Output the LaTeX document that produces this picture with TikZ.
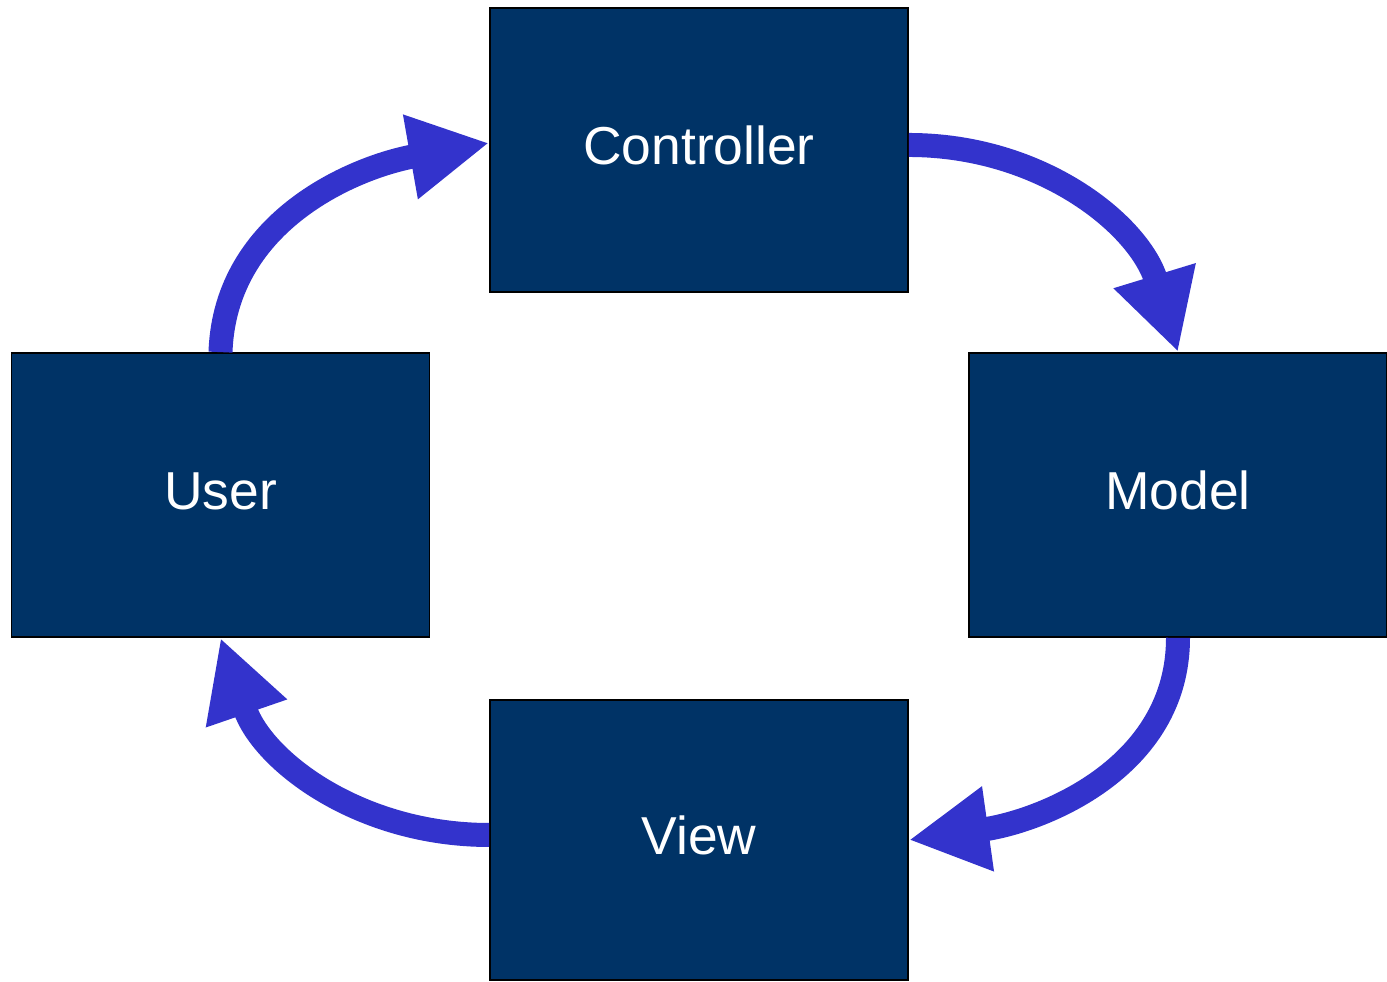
\documentclass[tikz,border=0pt]{standalone}
\usepackage{fontspec}
\setmainfont{Liberation Sans}
\usetikzlibrary{arrows.meta}
\definecolor{boxfill}{RGB}{0,51,102}
\definecolor{flowblue}{RGB}{51,51,204}
\begin{document}
\begin{tikzpicture}[x=0.02cm,y=0.02cm,
  part/.style={draw=black, line width=1pt, fill=boxfill, text=white,
    minimum width=8.36cm, minimum height=5.68cm, inner sep=0pt,
    text height=0.8cm, text depth=0.2cm,
    font=\fontsize{30.4}{36}\selectfont},
  flow/.style={draw=flowblue, line width=0.48cm,
    -{Triangle[length=1.6cm,width=1.6cm]}}]
\useasboundingbox (0,0) rectangle (1387,982);
\node[part] (controller) at (699,832) {Controller};
\node[part] (user) at (220.5,487) {User};
\node[part] (model) at (1178,487) {Model};
\node[part, minimum height=5.6cm] (view) at (699,142) {View};

\draw[flow] (user.north) to[out=88, in=190] ([yshift=0.14cm]controller.west);
\draw[flow] ([yshift=0.1cm]controller.east) to[out=0, in=107] (model.north);
\draw[flow] (model.south) to[out=-90, in=8] (view.east);
\draw[flow] ([yshift=0.1cm]view.west) to[out=180, in=-71] (user.south);
\end{tikzpicture}
\end{document}
